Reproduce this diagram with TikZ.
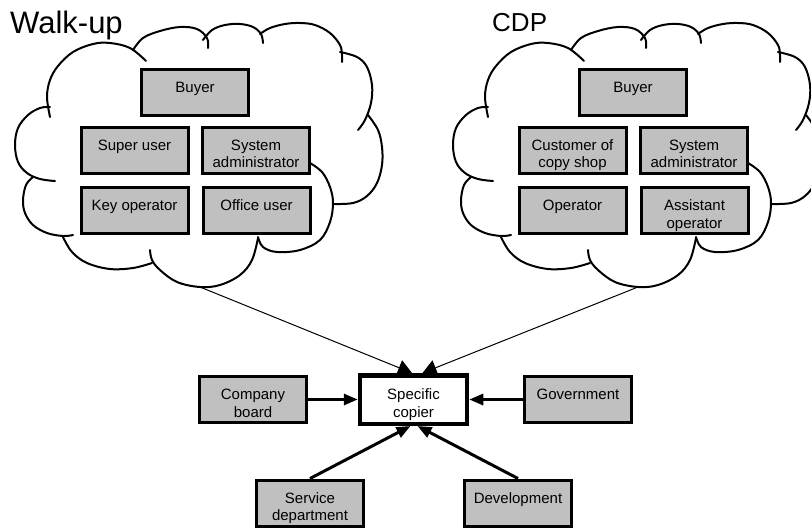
\documentclass[tikz,border=0pt]{standalone}
\usepackage{fontspec}
\setmainfont{Liberation Sans}
\usetikzlibrary{arrows.meta}
\definecolor{boxgray}{RGB}{192,192,192}
\newcommand{\bt}[1]{\parbox[t]{104pt}{\centering #1}}
\newcommand{\cloudlobes}{%
\draw[cloudline] plot[smooth,tension=0.6] coordinates {(50,117) (47,97) (50,80) (58,66) (73,52) (93,44) (110,43) (130,48) (146,61)};
\draw[cloudline] plot[smooth,tension=0.6] coordinates {(133,50) (143,38) (160,31) (180,27) (197,29) (207,38) (208,48)};
\draw[cloudline] plot[smooth,tension=0.6] coordinates {(203,40) (212,30) (225,25) (240,24) (253,27) (261,34) (263,43)};
\draw[cloudline] plot[smooth,tension=0.6] coordinates {(260,34) (270,28) (285,24) (300,23) (315,25) (330,33) (340,45) (342,55) (342,62)};
\draw[cloudline] plot[smooth,tension=0.6] coordinates {(340,52) (357,57) (367,67) (372,85) (371,103) (365,120) (358,130)};
\draw[cloudline] plot[smooth,tension=0.6] coordinates {(368,115) (378,130) (382,147) (382,165) (377,183) (367,196) (353,203) (333,204)};
\draw[cloudline] plot[smooth,tension=0.6] coordinates {(310,163) (322,172) (330,187) (333,203) (330,222) (320,240) (300,250) (277,252) (263,247) (258,237)};
\draw[cloudline] plot[smooth,tension=0.6] coordinates {(258,238) (252,260) (240,275) (220,285) (200,287) (177,282) (160,270) (152,260) (150,250)};
\draw[cloudline] plot[smooth,tension=0.6] coordinates {(63,237) (72,252) (87,263) (110,269) (133,268) (152,263)};
\draw[cloudline] plot[smooth,tension=0.6] coordinates {(33,177) (26,185) (23,200) (25,213) (33,225) (47,233) (63,236) (73,235)};
\draw[cloudline] plot[smooth,tension=0.6] coordinates {(50,107) (40,108) (28,115) (18,128) (15,145) (18,162) (27,173) (40,179) (55,181)};
}
\begin{document}
\begin{tikzpicture}[x=1pt,y=-1pt,
  cloudline/.style={line width=2pt, line cap=round, line join=round},
  gbox/.style={draw, line width=3pt, fill=boxgray, minimum width=107pt, minimum height=46pt,
    inner sep=0pt, text height=10pt, text depth=10pt, font=\fontsize{15}{17.5}\selectfont},
  copierbox/.style={gbox, fill=white, line width=4.5pt, minimum height=48.5pt},
  thickarrow/.style={line width=3pt, -{Triangle[length=14pt,width=11pt]}},
  thinarrow/.style={line width=1pt, -{Triangle[length=14pt,width=16pt]}},
  title/.style={anchor=base west, inner sep=0pt}]
\useasboundingbox (0,0) rectangle (811,528);
\clip (0,0) rectangle (811,528);

% clouds
\begin{scope}\cloudlobes\end{scope}
\begin{scope}[xshift=438pt]\cloudlobes\end{scope}
\coordinate (wcloud) at (200,287);
\coordinate (ccloud) at (638,287);

% titles
\node[title, font=\fontsize{31}{31}\selectfont] (walkup) at (10,33.5) {Walk-up};
\node[title, font=\fontsize{26}{26}\selectfont] (cdp) at (492,31.7) {CDP};

% walk-up boxes
\node[gbox] (wbuyer) at (195,92.5) {\bt{Buyer}};
\node[gbox] (wsuper) at (134.5,150) {\bt{Super user}};
\node[gbox] (wsys) at (256,150) {\bt{System\\administrator}};
\node[gbox] (wkey) at (134.5,210.5) {\bt{Key operator}};
\node[gbox] (woffice) at (256.5,210.5) {\bt{Office user}};

% CDP boxes
\node[gbox] (cbuyer) at (633,92.5) {\bt{Buyer}};
\node[gbox] (ccust) at (572.5,150) {\bt{Customer of\\copy shop}};
\node[gbox] (csys) at (694,150) {\bt{System\\administrator}};
\node[gbox] (cop) at (572.5,210.5) {\bt{Operator}};
\node[gbox] (cass) at (694.5,210.5) {\bt{Assistant\\operator}};

% lower part
\node[copierbox] (copier) at (413.5,399.5) {\bt{Specific\\copier}};
\node[gbox] (board) at (253,399.5) {\bt{Company\\board}};
\node[gbox] (gov) at (578,399.5) {\bt{Government}};
\node[gbox] (service) at (310,503) {\bt{Service\\department}};
\node[gbox] (dev) at (518,503) {\bt{Development}};

% connectors
\draw[thinarrow] (wcloud) -- ([xshift=-1.5pt]copier.north);
\draw[thinarrow] (ccloud) -- ([xshift=9pt]copier.north);
\draw[thickarrow] (board.east) -- (copier.west);
\draw[thickarrow] (gov.west) -- (copier.east);
\draw[thickarrow] (service.north) -- ([xshift=-3pt]copier.south);
\draw[thickarrow] (dev.north) -- ([xshift=4pt]copier.south);
\end{tikzpicture}
\end{document}
